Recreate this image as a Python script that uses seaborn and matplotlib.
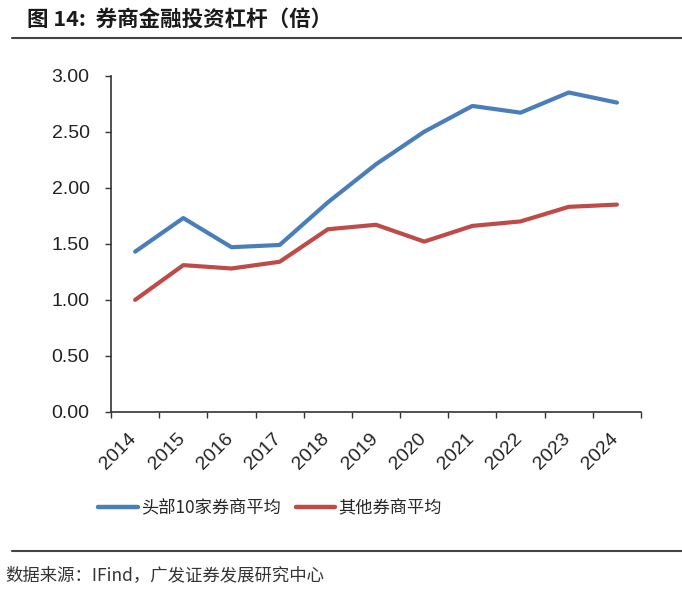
import numpy as np
import pandas as pd
import matplotlib
matplotlib.use("Agg")
import matplotlib.pyplot as plt
import matplotlib.transforms as mtransforms
from matplotlib.lines import Line2D
import seaborn as sns

# data
years = ["2014", "2015", "2016", "2017", "2018", "2019",
         "2020", "2021", "2022", "2023", "2024"]
top10_avg = [1.43, 1.73, 1.47, 1.49, 1.87, 2.21, 2.50, 2.73, 2.67, 2.85, 2.76]
others_avg = [1.00, 1.31, 1.28, 1.34, 1.63, 1.67, 1.52, 1.66, 1.70, 1.83, 1.85]
series_names = ["头部10家券商平均", "其他券商平均"]
y_ticks = [0.0, 0.5, 1.0, 1.5, 2.0, 2.5, 3.0]

colors = ["#4A7EBB", "#BE4B48"]

sns.set_style("white")
plt.rcParams["font.family"] = ["Liberation Sans", "Noto Sans CJK SC", "DejaVu Sans"]
cjk = ["Noto Sans CJK SC", "DejaVu Sans"]

df = pd.DataFrame({
    "pos": list(range(len(years))) * 2,
    "value": top10_avg + others_avg,
    "series": [series_names[0]] * len(years) + [series_names[1]] * len(years),
})

fig = plt.figure(figsize=(6.82, 5.94), dpi=100)
ax = fig.add_axes([0.1628, 0.3064, 0.9399 - 0.1628, 0.8726 - 0.3064])

sns.lineplot(data=df, x="pos", y="value", hue="series", palette=colors,
             linewidth=3.0, ax=ax, legend=False, sort=False)
for ln in ax.get_lines():
    ln.set_solid_capstyle("round")
    ln.set_solid_joinstyle("round")

ax.set_xlim(-0.5, len(years) - 0.5)
ax.set_ylim(0, 3.0)
ax.set_yticks(y_ticks)
ax.set_yticklabels([f"{v:.2f}" for v in y_ticks], fontsize=14, color="#222222")
ax.tick_params(axis="y", length=4.5, width=1, color="#333333", pad=11, direction="out", left=True)

# category labels centred, tick marks at boundaries
ax.set_xticks(range(len(years)))
ax.set_xticklabels(years, rotation=45, ha="right", fontsize=14, color="#222222")
ax.tick_params(axis="x", which="major", length=0, pad=13)
ax.set_xticks(np.arange(-0.5, len(years)), minor=True)
ax.tick_params(axis="x", which="minor", length=4, width=1, color="#333333",
               direction="out", bottom=True)
shift = mtransforms.ScaledTranslation(0.05, 0, fig.dpi_scale_trans)
for lbl in ax.get_xticklabels():
    lbl.set_transform(lbl.get_transform() + shift)

ax.set_xlabel("")
ax.set_ylabel("")
sns.despine(ax=ax)
for side in ["left", "bottom"]:
    ax.spines[side].set_color("#333333")
    ax.spines[side].set_linewidth(1.2)
ax.grid(False)

handles = [Line2D([0], [0], color=c, lw=3.2, solid_capstyle="round") for c in colors]
fig.legend(handles, series_names, loc="center", bbox_to_anchor=(270 / 682, 1 - 508 / 594),
           ncol=2, frameon=False, handlelength=2.3, handletextpad=0.2, columnspacing=0.85,
           prop={"family": cjk, "size": 12.4})

# title, rules and source note
fig.text(27 / 682, 1 - 19 / 594, "图 14:  券商金融投资杠杆（倍）", family=cjk,
         fontsize=15.5, fontweight="bold", color="#1a1a1a", va="center", ha="left")
fig.add_artist(Line2D([12 / 682, 1.0], [1 - 38 / 594] * 2, color="#444444", lw=1.5))
fig.add_artist(Line2D([12 / 682, 1.0], [1 - 551 / 594] * 2, color="#444444", lw=1.5))
fig.text(5 / 682, 1 - 575 / 594, "数据来源：IFind，广发证券发展研究中心", family=cjk,
         fontsize=12.5, color="#333333", va="center", ha="left")

fig.savefig("out.png", dpi=100)
